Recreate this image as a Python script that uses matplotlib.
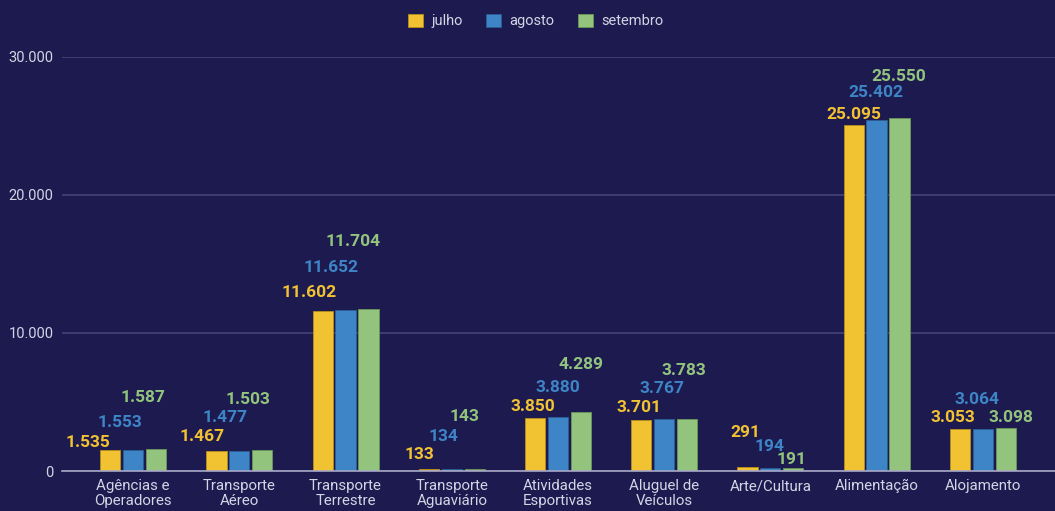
import numpy as np
import matplotlib.pyplot as plt

categorias = ['Agências e\nOperadores', 'Transporte\nAéreo', 'Transporte\nTerrestre',
              'Transporte\nAguaviário', 'Atividades\nEsportivas', 'Aluguel de\nVeículos',
              'Arte/Cultura', 'Alimentação', 'Alojamento']
meses = ['julho', 'agosto', 'setembro']
julho = [1535, 1467, 11602, 133, 3850, 3701, 291, 25095, 3053]
agosto = [1553, 1477, 11652, 134, 3880, 3767, 194, 25402, 3064]
setembro = [1587, 1503, 11704, 143, 4289, 3783, 191, 25550, 3098]
yticks = [0, 10000, 20000, 30000]

cores = ['#f1c232', '#3d85c6', '#93c47d']
bordas = ['#b8901c', '#2a5f93', '#6a9658']
bg = '#1d1a50'

# label offsets in pixels (dx, dy) per series, per category
lbl_dx = [[-22, -14, -13, -9, -2, -2, -2, 0, -7],
          [-13, -14, -15, -8, 0, -2, -1, -1, -6],
          [-13, -14, -15, -10, 0, -3, -2, -1, 5]]
lbl_dy = [[7, 14, 18, 15, 11, 12, 34, 10, 11],
          [27, 33, 43, 33, 30, 31, 22, 28, 29],
          [52, 51, 68, 53, 47, 48, 9, 42, 11]]

def fmt(v):
    return f'{v:,}'.replace(',', '.')

plt.rcParams['font.family'] = ['Roboto', 'DejaVu Sans']

fig = plt.figure(figsize=(10.55, 5.11), dpi=100, facecolor=bg)
ax = fig.add_axes([62 / 1055, 40 / 511, 1 - 62 / 1055, 414 / 511], facecolor=bg)

x = np.arange(len(categorias))
w = 0.19
step = 0.216
series = [julho, agosto, setembro]
for k, vals in enumerate(series):
    pos = x + (k - 1) * step
    ax.bar(pos, vals, width=w, color=cores[k], edgecolor=bordas[k], linewidth=0.6,
           label=meses[k], zorder=3)
    for i, v in enumerate(vals):
        ax.annotate(fmt(v), (pos[i], v), xytext=(lbl_dx[k][i], lbl_dy[k][i]),
                    textcoords='offset pixels', ha='center', va='center',
                    color=cores[k], fontsize=12.5, fontweight='bold', zorder=4,
                    annotation_clip=False)

ax.set_xlim(-0.67, 8.68)
ax.set_ylim(0, 30000)
ax.set_yticks(yticks)
ax.set_yticklabels([fmt(t) for t in yticks], color='#d4d4e4', fontsize=10.5)
ax.set_xticks(x)
ax.set_xticklabels(categorias, color='#d4d4e4', fontsize=10.8, linespacing=1.05)
ax.tick_params(length=0)
ax.tick_params(axis='x', pad=6)
ax.tick_params(axis='y', pad=6)
ax.grid(axis='y', color='#46447a', linewidth=1.2, zorder=0)
for s in ['top', 'right', 'left']:
    ax.spines[s].set_visible(False)
ax.spines['bottom'].set_color('#a8a8c8')
ax.spines['bottom'].set_linewidth(1.2)
ax.spines['bottom'].set_zorder(5)

leg = fig.legend(loc='center', bbox_to_anchor=(0.508, 1 - 21 / 511), ncol=3, frameon=False,
                 fontsize=10.5, handlelength=1.0, handleheight=1.0, handletextpad=0.6,
                 columnspacing=1.6)
for t in leg.get_texts():
    t.set_color('#d4d4e4')

fig.savefig('out.png', dpi=100, facecolor=bg)
